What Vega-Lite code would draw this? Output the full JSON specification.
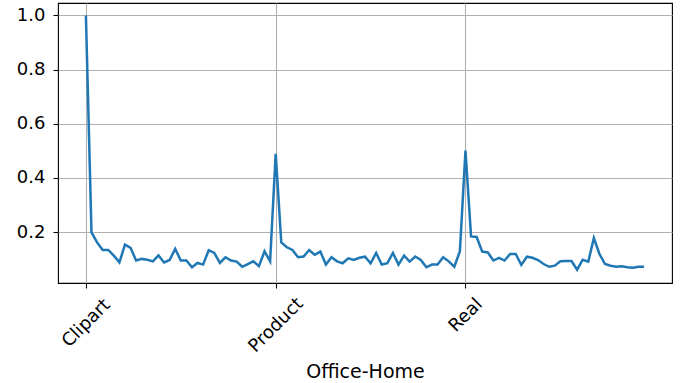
{
  "$schema": "https://vega.github.io/schema/vega-lite/v6.json",
  "width": 614,
  "height": 280,
  "autosize": "none",
  "padding": {"left": 58, "top": 3, "right": 14, "bottom": 100},
  "background": "white",
  "config": {"view": {"stroke": "black", "strokeWidth": 1.1}, "font": "DejaVu Sans"},
  "data": {"values": [
    {"i":0,"v":1.0},{"i":1,"v":0.199},{"i":2,"v":0.162},{"i":3,"v":0.134},{"i":4,"v":0.134},{"i":5,"v":0.113},{"i":6,"v":0.088},{"i":7,"v":0.154},{"i":8,"v":0.142},{"i":9,"v":0.095},
    {"i":10,"v":0.101},{"i":11,"v":0.098},{"i":12,"v":0.092},{"i":13,"v":0.114},{"i":14,"v":0.088},{"i":15,"v":0.097},{"i":16,"v":0.138},{"i":17,"v":0.095},{"i":18,"v":0.095},{"i":19,"v":0.070},
    {"i":20,"v":0.086},{"i":21,"v":0.080},{"i":22,"v":0.133},{"i":23,"v":0.123},{"i":24,"v":0.086},{"i":25,"v":0.107},{"i":26,"v":0.095},{"i":27,"v":0.091},{"i":28,"v":0.072},{"i":29,"v":0.082},
    {"i":30,"v":0.092},{"i":31,"v":0.074},{"i":32,"v":0.129},{"i":33,"v":0.092},{"i":34,"v":0.489},{"i":35,"v":0.162},{"i":36,"v":0.144},{"i":37,"v":0.134},{"i":38,"v":0.107},{"i":39,"v":0.110},
    {"i":40,"v":0.134},{"i":41,"v":0.116},{"i":42,"v":0.128},{"i":43,"v":0.080},{"i":44,"v":0.107},{"i":45,"v":0.092},{"i":46,"v":0.085},{"i":47,"v":0.103},{"i":48,"v":0.097},{"i":49,"v":0.105},
    {"i":50,"v":0.109},{"i":51,"v":0.085},{"i":52,"v":0.123},{"i":53,"v":0.080},{"i":54,"v":0.085},{"i":55,"v":0.123},{"i":56,"v":0.080},{"i":57,"v":0.113},{"i":58,"v":0.091},{"i":59,"v":0.110},
    {"i":60,"v":0.097},{"i":61,"v":0.070},{"i":62,"v":0.080},{"i":63,"v":0.080},{"i":64,"v":0.107},{"i":65,"v":0.092},{"i":66,"v":0.072},{"i":67,"v":0.129},{"i":68,"v":0.501},{"i":69,"v":0.184},
    {"i":70,"v":0.182},{"i":71,"v":0.128},{"i":72,"v":0.125},{"i":73,"v":0.095},{"i":74,"v":0.105},{"i":75,"v":0.095},{"i":76,"v":0.119},{"i":77,"v":0.119},{"i":78,"v":0.079},{"i":79,"v":0.109},
    {"i":80,"v":0.105},{"i":81,"v":0.097},{"i":82,"v":0.082},{"i":83,"v":0.072},{"i":84,"v":0.076},{"i":85,"v":0.092},{"i":86,"v":0.093},{"i":87,"v":0.093},{"i":88,"v":0.061},{"i":89,"v":0.098},
    {"i":90,"v":0.091},{"i":91,"v":0.178},{"i":92,"v":0.119},{"i":93,"v":0.082},{"i":94,"v":0.076},{"i":95,"v":0.072},{"i":96,"v":0.074},{"i":97,"v":0.070},{"i":98,"v":0.068},{"i":99,"v":0.072},
    {"i":100,"v":0.072}
  ]},
  "mark": {"type": "line", "color": "#1f77b4", "strokeWidth": 2.5, "clip": true},
  "encoding": {
    "x": {
      "field": "i", "type": "quantitative",
      "scale": {"domain": [-5, 105], "nice": false, "zero": false},
      "axis": {
        "values": [0, 34, 68],
        "labelExpr": "datum.value == 0 ? 'Clipart' : datum.value == 34 ? 'Product' : 'Real'",
        "title": "Office-Home",
        "labelAngle": -45,
        "labelAlign": "center",
        "labelBaseline": "middle",
        "labelPadding": {"condition": [{"test": "datum.value == 0", "value": 35}, {"test": "datum.value == 34", "value": 37}], "value": 27},
        "labelFontSize": 18,
        "labelColor": "black",
        "labelFlush": false,
        "labelBound": false,
        "labelOverlap": false,
        "tickColor": "black",
        "tickSize": 5,
        "tickWidth": 1.1,
        "domain": false,
        "grid": true,
        "gridColor": "#b0b0b0",
        "gridWidth": 1.1,
        "titleFontSize": 19,
        "titleFontWeight": "normal",
        "titleColor": "black",
        "titleBaseline": "alphabetic",
        "titleY": 94
      }
    },
    "y": {
      "field": "v", "type": "quantitative",
      "scale": {"domain": [0.012, 1.046], "nice": false, "zero": false},
      "axis": {
        "values": [0.2, 0.4, 0.6, 0.8, 1.0],
        "format": ".1f",
        "title": null,
        "labelFontSize": 18,
        "labelColor": "black",
        "labelPadding": 8,
        "labelFlush": false,
        "labelBound": false,
        "tickColor": "black",
        "tickSize": 5,
        "tickWidth": 1.1,
        "domain": false,
        "grid": true,
        "gridColor": "#b0b0b0",
        "gridWidth": 1.1
      }
    }
  }
}
